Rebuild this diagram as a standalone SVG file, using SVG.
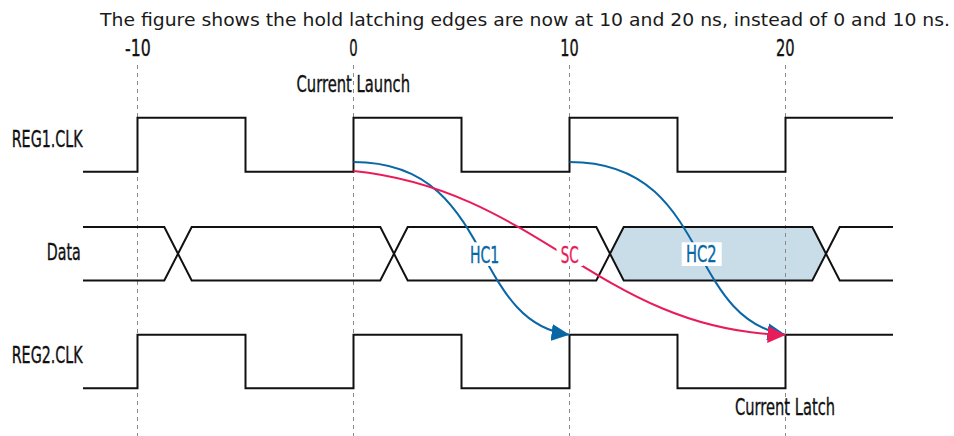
<svg xmlns="http://www.w3.org/2000/svg" width="954" height="436" viewBox="0 0 954 436">
<style>
.cap{font-family:"Liberation Sans Narrow","DejaVu Sans Condensed","DejaVu Sans",sans-serif;font-stretch:condensed;font-size:23px;fill:#111;stroke:#111;stroke-width:0.35}
.note{font-family:"DejaVu Sans",Verdana,sans-serif;font-size:17px;fill:#1a1a1a}
.wave{fill:none;stroke:#111;stroke-width:2}
.grid{stroke:#8a8a8a;stroke-width:1;stroke-dasharray:4 4}
.blue{fill:none;stroke:#0a67a6;stroke-width:2}
.red{fill:none;stroke:#e91c5a;stroke-width:2}
.lb{fill:#ffffff}
.tb{fill:#0a67a6;stroke:#0a67a6}
.tr{fill:#e91c5a;stroke:#e91c5a}
</style>
<defs>
<marker id="ab" markerUnits="userSpaceOnUse" markerWidth="18" markerHeight="17" refX="18" refY="8.5" orient="auto"><path d="M0,0 L18,8.5 L0,17 z" fill="#0a67a6"/></marker>
<marker id="ar" markerUnits="userSpaceOnUse" markerWidth="18" markerHeight="17" refX="18" refY="8.5" orient="auto"><path d="M0,0 L18,8.5 L0,17 z" fill="#e91c5a"/></marker>
</defs>
<rect width="954" height="436" fill="#ffffff"/>
<text class="note" x="100" y="26" textLength="850" lengthAdjust="spacingAndGlyphs">The figure shows the hold latching edges are now at 10 and 20 ns, instead of 0 and 10 ns.</text>
<g id="ticks">
<text class="cap" x="125" y="56" textLength="25.7" lengthAdjust="spacingAndGlyphs">-10</text>
<text class="cap" x="349.3" y="56" textLength="8.4" lengthAdjust="spacingAndGlyphs">0</text>
<text class="cap" x="560.3" y="56" textLength="18.4" lengthAdjust="spacingAndGlyphs">10</text>
<text class="cap" x="776" y="56" textLength="18.7" lengthAdjust="spacingAndGlyphs">20</text>
</g>
<g id="data-window">
<polygon points="610,253.7 623.7,227 812.3,227 826,253.7 812.3,280.5 623.7,280.5" fill="#c9dde9"/>
</g>
<g id="gridlines">
<line class="grid" x1="137.5" y1="65" x2="137.5" y2="436"/>
<line class="grid" x1="353.5" y1="65" x2="353.5" y2="436"/>
<line class="grid" x1="569.5" y1="65" x2="569.5" y2="436"/>
<line class="grid" x1="785.5" y1="65" x2="785.5" y2="436"/>
</g>
<g id="reg1">
<text class="cap" x="11.7" y="146.7" textLength="71" lengthAdjust="spacingAndGlyphs">REG1.CLK</text>
<path class="wave" d="M83,171.7 H137.5 V117.7 H245.5 V171.7 H353.5 V117.7 H461.5 V171.7 H569.5 V117.7 H677.5 V171.7 H785.5 V117.7 H893"/>
</g>
<g id="data">
<text class="cap" x="46.7" y="260" textLength="34" lengthAdjust="spacingAndGlyphs">Data</text>
<path class="wave" d="M83,227 H164.3 L191.7,280.5 H380.3 L407.7,227 H596.3 L623.7,280.5 H812.3 L839.7,227 H893"/>
<path class="wave" d="M83,280.5 H164.3 L191.7,227 H380.3 L407.7,280.5 H596.3 L623.7,227 H812.3 L839.7,280.5 H893"/>
</g>
<g id="reg2">
<text class="cap" x="11.7" y="362.7" textLength="71" lengthAdjust="spacingAndGlyphs">REG2.CLK</text>
<path class="wave" d="M83,388.3 H137.5 V334.7 H245.5 V388.3 H353.5 V334.7 H461.5 V388.3 H569.5 V334.7 H677.5 V388.3 H785.5 V334.7 H893"/>
</g>
<g id="launch-label">
<text class="cap" x="296.5" y="91.7" textLength="113.5" lengthAdjust="spacingAndGlyphs">Current Launch</text>
</g>
<g id="latch-label">
<text class="cap" x="735" y="415" textLength="100" lengthAdjust="spacingAndGlyphs">Current Latch</text>
</g>
<g id="connectors">
<path id="hc1-path" class="blue" d="M353.5,162 C495,162 468,322 569.5,334.7" marker-end="url(#ab)"/>
<path id="hc2-path" class="blue" d="M569.5,162 C711,162 684,318 785.5,334.7" marker-end="url(#ab)"/>
<path id="sc-path" class="red" d="M353.5,171 C540,190 600,330 785.5,335" marker-end="url(#ar)"/>
</g>
<g id="hc1">
<rect class="lb" x="466" y="242.3" width="37.5" height="23.7"/>
<text class="cap tb" x="470" y="263" textLength="29.3" lengthAdjust="spacingAndGlyphs">HC1</text>
</g>
<g id="sc">
<rect class="lb" x="556.5" y="242.3" width="26.5" height="23.7"/>
<text class="cap tr" x="560.7" y="263" textLength="18" lengthAdjust="spacingAndGlyphs">SC</text>
</g>
<g id="hc2">
<rect class="lb" x="681.7" y="242.3" width="40" height="23.7"/>
<text class="cap tb" x="686" y="262.3" textLength="30.7" lengthAdjust="spacingAndGlyphs">HC2</text>
</g>
</svg>
